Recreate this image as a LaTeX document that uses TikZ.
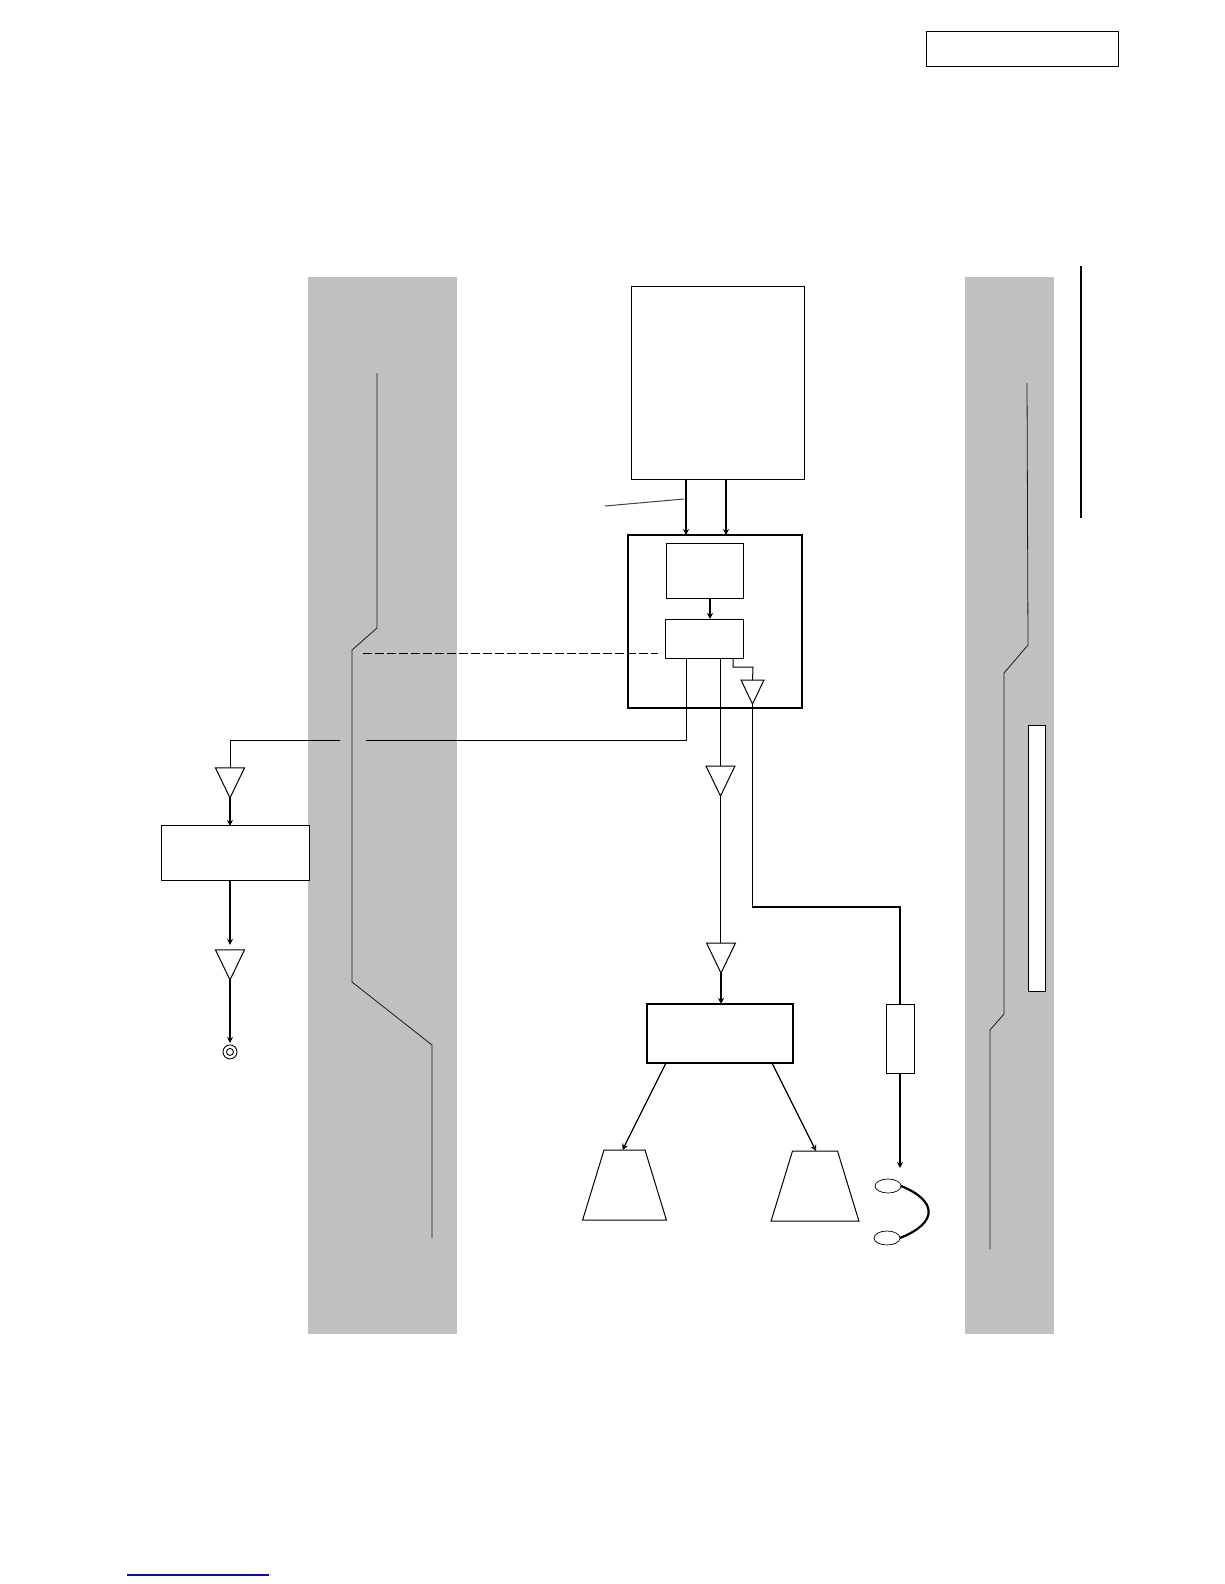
\documentclass[tikz,border=0pt]{standalone}
\usepackage{xcolor}
\usepackage{tikz}
\usetikzlibrary{arrows.meta,positioning,shapes.geometric}
\definecolor{band}{HTML}{C0C0C0}
\definecolor{bandline}{HTML}{1A1A1A}
\definecolor{linkblue}{HTML}{10109A}

\begin{document}
\begin{tikzpicture}[
  x=1pt,y=-1pt,
  every node/.style={inner sep=0pt,outer sep=0pt},
  box/.style={draw,fill=white,line width=1pt},
  heavy/.style={draw,fill=white,line width=1.5pt},
  bandbox/.style={fill=band,minimum width=#1,minimum height=1057pt},
  tri/.style={isosceles triangle,isosceles triangle stretches,shape border rotate=-90,draw,fill=white,line width=1pt,minimum width=29pt,minimum height=30pt},
  spk/.style={trapezium,trapezium left angle=73,trapezium right angle=73,draw,fill=white,line width=1pt,text height=70pt},
  ear/.style={ellipse,draw,fill=white,line width=0.7pt,minimum width=26pt,minimum height=14pt},
  conn/.style={line width=1pt},
  arr/.style={-{Stealth[length=6pt,width=6pt]},line width=1.2pt},
  trace/.style={draw=bandline,line width=0.8pt},
]
\useasboundingbox (0,0) rectangle (1224,1584);

% grey bands and what runs in them
\node[bandbox=149pt] (lband) at (382.5,805.5) {};
\node[bandbox=89pt, right=508pt of lband] (rband) {};
\draw[trace] (377,373) -- (377,628) -- (352,650) -- (352,982) -- (432,1045) -- (432,1238);
\draw[trace] (1027,383) -- (1028,645) -- (1004,673) -- (1004,1014) -- (990,1030) -- (990,1249);
\node[box, minimum width=17.5pt, minimum height=266pt] (bar) at (1036.75,858) {};

\node[box, minimum width=192pt, minimum height=35pt] (tag) at (1022,49.5) {};
\node[box, minimum width=173pt, minimum height=193pt] (topbox) at (717.5,382.5) {};
\node[heavy, minimum width=174pt, minimum height=173pt, below=56pt of topbox, xshift=-2.5pt] (mainbox) {};
\node[box, minimum width=77pt, minimum height=55pt, below=8pt of mainbox.north, xshift=-10.5pt] (inner) {};
\node[box, minimum width=78pt, minimum height=39pt, below=21pt of inner, xshift=-0.5pt] (mixer) {};
\node[tri, minimum width=23pt, minimum height=24pt, below=22pt of mixer, xshift=48.5pt] (amps) {};

% left chain
\node[tri] (ampa) at (230,777) {};
\node[box, minimum width=148pt, minimum height=55pt, below=28pt of ampa, xshift=5pt] (boxl) {};
\node[tri, below=69pt of boxl, xshift=-5pt] (ampb) {};
\node[circle, draw, line width=0.9pt, minimum size=14pt, below=65pt of ampb] (jack) {};
\node[circle, draw, line width=0.9pt, minimum size=7pt] (jackin) at (jack.center) {};

% middle chain
\node[tri, below=108pt of mixer, xshift=16.5pt] (ampc) {};
\node[tri, below=147pt of ampc, xshift=0.5pt] (ampd) {};
\node[box, line width=1.2pt, minimum width=146pt, minimum height=59pt, below=31pt of ampd, xshift=-1pt] (ampbox) {};
\node[spk, text width=41pt, below=87pt of ampbox, xshift=-95.5pt] (spkl) {};
\node[spk, text width=45pt, below=88pt of ampbox, xshift=95pt] (spkr) {};

% headphone branch
\coordinate (turn) at (900,907);
\node[box, minimum width=28pt, minimum height=69pt, below=97pt of turn] (res) {};
\coordinate[below=95pt of res] (earin);
\node[ear, below=106pt of res, xshift=-12pt] (earu) {};
\node[ear, below=38pt of earu, xshift=-1pt] (earl) {};

% free ends
\coordinate (gapr) at (366,740);
\coordinate (gapl) at (340,740);
\coordinate (dashl) at (363,653);
\coordinate (dashr) at (658,653);
\coordinate (leadl) at (605,506);
\coordinate (leadr) at (684,499);
\coordinate (bart) at (1081,266);
\coordinate (barb) at (1081,518);
\coordinate (linkl) at (127,1575);
\coordinate (linkr) at (269,1575);

\draw[arr, line width=1.5pt] ([xshift=-31.5pt]topbox.south) -- ([xshift=-29pt]mainbox.north);
\draw[arr, line width=1.5pt] ([xshift=8.5pt]topbox.south) -- ([xshift=11pt]mainbox.north);
\draw[conn, draw=black!75] (leadl) -- (leadr);
\draw[arr] ([xshift=5.5pt]inner.south) -- ([xshift=6pt]mixer.north);
\draw[conn, line width=0.9pt, dash pattern=on 8.5pt off 3.5pt] (dashl) -- (dashr);
\draw[conn] ([xshift=-18pt]mixer.south) |- (gapr);
\draw[conn] (gapl) -| (ampa.north);
\draw[arr] (ampa.south) -- (ampa.south |- boxl.north);
\draw[arr, shorten >=5pt] (boxl.south -| ampb.north) -- (ampb.north);
\draw[arr, shorten >=2pt] (ampb.south) -- (jack.north);
\draw[conn] (mixer.south -| ampc.north) -- (ampc.north);
\draw[conn] (ampc.south) -- (ampc.south |- ampd.north);
\draw[arr] (ampd.south) -- (ampd.south |- ampbox.north);
\draw[arr] ([xshift=-54pt]ampbox.south) -- ([xshift=-2pt]spkl.north);
\draw[arr] ([xshift=52pt]ampbox.south) -- ([xshift=1pt]spkr.north);
\draw[conn] ([xshift=29pt]mixer.south) |- ++(20,9) -- (amps.north);
\draw[conn, line width=1.4pt] (amps.south) |- (turn) -- (res.north);
\draw[arr] (res.south) -- (earin);
\draw[line width=2.2pt] (earu.east) .. controls (936,1200) and (940,1222) .. (earl.east);
\draw[line width=2pt] (bart) -- (barb);
\draw[draw=linkblue, line width=1.5pt] (linkl) -- (linkr);
\end{tikzpicture}
\end{document}
